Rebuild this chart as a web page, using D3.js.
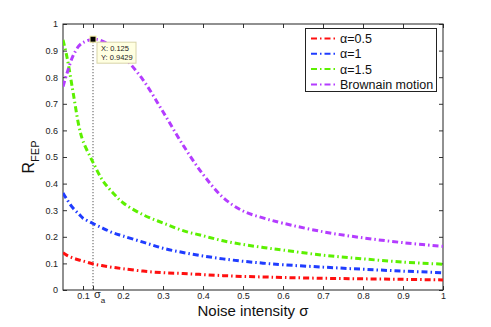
<!DOCTYPE html>
<html><head><meta charset="utf-8">
<script src="https://cdn.jsdelivr.net/npm/d3@7"></script>
<style>body{margin:0;background:#fff;}svg{display:block;font-family:"Liberation Sans",Arial,sans-serif;}</style>
</head><body>
<svg id="c" width="491" height="327"></svg>
<script>
const sigma = [0.05,0.06,0.075,0.09,0.1,0.125,0.15,0.175,0.2,0.25,0.3,0.35,0.4,0.45,0.5,0.55,0.6,0.7,0.8,0.9,1.0];
const alpha05 = [0.14,0.13,0.12,0.113,0.109,0.098,0.091,0.085,0.080,0.071,0.065,0.062,0.058,0.054,0.051,0.049,0.047,0.044,0.042,0.040,0.038];
const alpha1  = [0.365,0.34,0.308,0.285,0.27,0.25,0.232,0.215,0.203,0.18,0.157,0.141,0.128,0.117,0.108,0.101,0.095,0.086,0.078,0.071,0.065];
const alpha15 = [0.94,0.875,0.745,0.615,0.56,0.48,0.41,0.365,0.328,0.283,0.252,0.223,0.204,0.185,0.171,0.160,0.150,0.131,0.117,0.105,0.097];
const brownian= [0.765,0.815,0.88,0.918,0.93,0.9429,0.935,0.912,0.88,0.79,0.67,0.545,0.435,0.348,0.297,0.271,0.251,0.219,0.196,0.178,0.164];
const seriesNames = ["\u03b1=0.5","\u03b1=1","\u03b1=1.5","Brownain motion"];
const seriesColors = ["#ff1010","#1f3cff","#5cf000","#b43cff"];
const xTicks = [0.1,0.2,0.3,0.4,0.5,0.6,0.7,0.8,0.9,1];
const yTicks = [0,0.1,0.2,0.3,0.4,0.5,0.6,0.7,0.8,0.9,1];
const sigmaA = 0.125, peakY = 0.9429;

const svg = d3.select("#c");
const L=63, R=443, T=24, B=290;
const x = d3.scaleLinear().domain([0.05,1]).range([L,R]);
const y = d3.scaleLinear().domain([0,1]).range([B,T]);

const fmt = d => d===1||d===0 ? String(d) : d3.format(".1f")(d);

// axes with inward ticks
svg.append("g").attr("transform",`translate(0,${B})`)
  .call(d3.axisBottom(x).tickValues(xTicks).tickSizeInner(-4).tickSizeOuter(0).tickPadding(3).tickFormat(fmt));
svg.append("g").attr("transform",`translate(0,${T})`)
  .call(d3.axisTop(x).tickValues(xTicks.concat([sigmaA])).tickSizeInner(-4).tickSizeOuter(0).tickFormat(""));
svg.append("g").attr("transform",`translate(0,${B})`)
  .call(d3.axisBottom(x).tickValues([sigmaA]).tickSizeInner(-4).tickSizeOuter(0).tickFormat(""));
svg.append("g").attr("transform",`translate(${L},0)`)
  .call(d3.axisLeft(y).tickValues(yTicks).tickSizeInner(-4).tickSizeOuter(0).tickPadding(5).tickFormat(fmt));
svg.append("g").attr("transform",`translate(${R},0)`)
  .call(d3.axisRight(y).tickValues(yTicks).tickSizeInner(-4).tickSizeOuter(0).tickFormat(""));
svg.selectAll(".domain").remove();
svg.selectAll(".tick line").attr("stroke","#333");
svg.selectAll(".tick text").attr("font-size","9px").attr("fill","#222").attr("font-family","'Liberation Sans',Arial,sans-serif");

// frame
svg.append("rect").attr("x",L).attr("y",T).attr("width",R-L).attr("height",B-T)
  .attr("fill","none").attr("stroke","#222").attr("stroke-width",1);

// sigma_a label
const sa = svg.append("text").attr("x",x(sigmaA)+1).attr("y",B+8).attr("font-size","11px").attr("fill","#222");
sa.append("tspan").text("\u03c3");
sa.append("tspan").attr("dy",5).attr("font-size","8px").text("a");

// dotted guide
svg.append("line").attr("x1",x(sigmaA)).attr("x2",x(sigmaA)).attr("y1",y(peakY)).attr("y2",B)
  .attr("stroke","#333").attr("stroke-dasharray","1,2").attr("stroke-width",1);

// lines
const allSeries = [alpha05,alpha1,alpha15,brownian];
const line = d3.line().x((d,i)=>x(sigma[i])).y(d=>y(d)).curve(d3.curveCatmullRom.alpha(0.5));
svg.append("clipPath").attr("id","clp").append("rect").attr("x",L).attr("y",T).attr("width",R-L).attr("height",B-T);
allSeries.forEach((s,k)=>{
  svg.append("path").datum(s).attr("d",line).attr("fill","none")
    .attr("stroke",seriesColors[k]).attr("stroke-width",3)
    .attr("stroke-dasharray","6,3,1.5,3").attr("clip-path","url(#clp)");
});

// datatip
svg.append("rect").attr("x",x(sigmaA)-3).attr("y",y(peakY)-3).attr("width",6).attr("height",6)
  .attr("fill","#000").attr("stroke","#f3eda0").attr("stroke-width",1);
const tipX = x(sigmaA)+4, tipY = y(peakY)+3;
svg.append("rect").attr("x",tipX).attr("y",tipY).attr("width",39).attr("height",21)
  .attr("fill","#ffffe1").attr("stroke","#d8d4a8").attr("stroke-width",1);
svg.append("text").attr("x",tipX+4).attr("y",tipY+9).attr("font-size","7.5px").attr("fill","#222").text("X: 0.125");
svg.append("text").attr("x",tipX+4).attr("y",tipY+17.5).attr("font-size","7.5px").attr("fill","#222").text("Y: 0.9429");

// legend
const lg = svg.append("g");
lg.append("rect").attr("x",305.5).attr("y",28.5).attr("width",131).attr("height",63)
  .attr("fill","#fff").attr("stroke","#222").attr("stroke-width",1);
seriesNames.forEach((n,k)=>{
  const yy = 38.5 + k*15.3;
  lg.append("line").attr("x1",311).attr("x2",335).attr("y1",yy).attr("y2",yy)
    .attr("stroke",seriesColors[k]).attr("stroke-width",2).attr("stroke-dasharray","6,3,1.5,3");
  lg.append("text").attr("x",340).attr("y",yy+4.5).attr("font-size","12.5px").attr("fill","#111").text(n);
});

// axis labels
svg.append("text").attr("x",(L+R)/2).attr("y",315.5).attr("text-anchor","middle")
  .attr("font-size","15px").attr("fill","#111").text("Noise intensity \u03c3");
const yl = svg.append("text").attr("transform",`translate(34,${(T+B)/2}) rotate(-90)`)
  .attr("text-anchor","middle").attr("font-size","16px").attr("fill","#111");
yl.append("tspan").text("R");
yl.append("tspan").attr("dy",5).attr("font-size","11px").text("FEP");
</script>
</body></html>
